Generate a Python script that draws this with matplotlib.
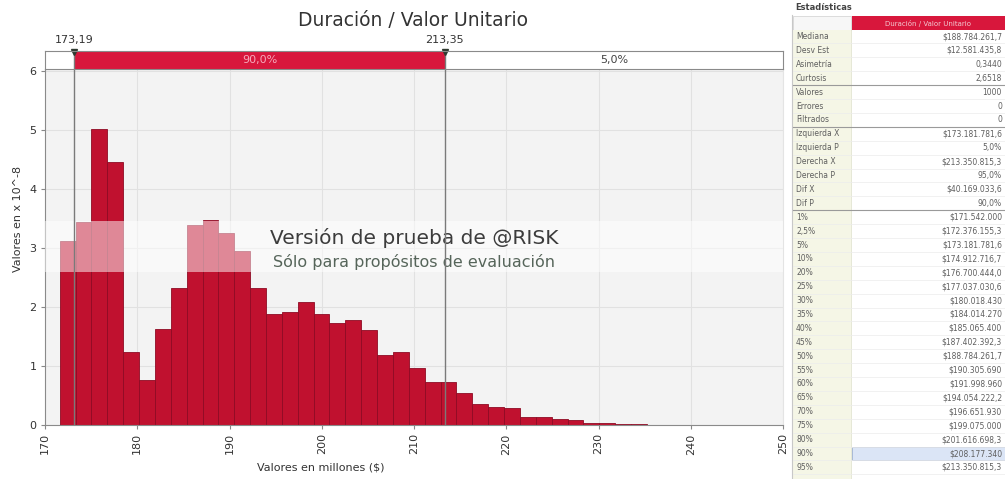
import numpy as np
import matplotlib
matplotlib.use("Agg")
import matplotlib.pyplot as plt
from matplotlib.patches import Rectangle

# histogram of the simulated unit cost (millions of $), density x 10^-8
bin_start = 171.6
bin_width = 1.72
heights = [3.11, 3.43, 5.01, 4.46, 1.24, 0.76, 1.62, 2.32, 3.39, 3.47,
           3.26, 2.94, 2.32, 1.88, 1.92, 2.09, 1.88, 1.73, 1.78, 1.61,
           1.19, 1.24, 0.97, 0.72, 0.72, 0.55, 0.36, 0.30, 0.28, 0.14,
           0.14, 0.11, 0.085, 0.04, 0.03, 0.015, 0.01, 0.008, 0.005, 0.005]

left_x = 173.19
right_x = 213.35
pct_left = 5.0
pct_mid = 90.0
pct_right = 5.0

x_ticks = [170, 180, 190, 200, 210, 220, 230, 240, 250]
y_ticks = [0, 1, 2, 3, 4, 5, 6]

# statistics table on the right
stat_labels = ["Mediana", "Desv Est", "Asimetría", "Curtosis", "Valores", "Errores",
               "Filtrados", "Izquierda X", "Izquierda P", "Derecha X", "Derecha P",
               "Dif X", "Dif P",
               "1%", "2,5%", "5%", "10%", "20%", "25%", "30%", "35%", "40%", "45%",
               "50%", "55%", "60%", "65%", "70%", "75%", "80%", "90%", "95%"]
stat_values = ["$188.784.261,7", "$12.581.435,8", "0,3440", "2,6518", "1000", "0",
               "0", "$173.181.781,6", "5,0%", "$213.350.815,3", "95,0%",
               "$40.169.033,6", "90,0%",
               "$171.542.000", "$172.376.155,3", "$173.181.781,6", "$174.912.716,7",
               "$176.700.444,0", "$177.037.030,6", "$180.018.430", "$184.014.270",
               "$185.065.400", "$187.402.392,3", "$188.784.261,7", "$190.305.690",
               "$191.998.960", "$194.054.222,2", "$196.651.930", "$199.075.000",
               "$201.616.698,3", "$208.177.340", "$213.350.815,3"]

W, H = 1005, 479
fig = plt.figure(figsize=(W / 100, H / 100), dpi=100)

def px_axes(x0, y0, x1, y1):
    return fig.add_axes([x0 / W, 1 - y1 / H, (x1 - x0) / W, (y1 - y0) / H])

ax = px_axes(45, 69, 783, 425)
band = px_axes(45, 51, 783, 69)

edges = bin_start + bin_width * np.arange(len(heights))
ax.set_facecolor("#f3f3f3")
ax.bar(edges, heights, width=bin_width, align="edge", color="#c0112f",
       edgecolor="#8e0b24", linewidth=0.6, zorder=2)

# evaluation watermark
ax.axhspan(2.6, 3.45, color="white", alpha=0.5, lw=0, zorder=3)
ax.text(210, 3.17, "Versión de prueba de @RISK", ha="center", va="center",
        fontsize=14.5, color="#3c3c3c", zorder=4)
ax.text(210, 2.76, "Sólo para propósitos de evaluación", ha="center", va="center",
        fontsize=11.5, color="#56655a", zorder=4)

for v in (left_x, right_x):
    ax.axvline(v, color="#7a7a7a", lw=1, zorder=5)

ax.set_xlim(170, 250)
ax.set_ylim(0, 6.03)
ax.set_xticks(x_ticks)
ax.set_yticks(y_ticks)
ax.set_xticklabels([str(t) for t in x_ticks], rotation=90, fontsize=8, color="#333333")
ax.set_yticklabels([str(t) for t in y_ticks], fontsize=8, color="#333333")
ax.tick_params(direction="out", length=3, color="#888888", pad=3)
ax.grid(True, color="#e1e1e1", lw=0.8, zorder=0)
ax.set_axisbelow(True)
ax.spines["top"].set_visible(False)
ax.spines["right"].set_color("#e4e4e4")
ax.spines["left"].set_color("#8a8a8a")
ax.spines["bottom"].set_color("#8a8a8a")

ax.set_xlabel("Valores en millones ($)", fontsize=8, color="#333333")
ax.xaxis.label.set_va("center")
ax.xaxis.set_label_coords(0.373, -0.118)
ax.set_ylabel("Valores en x 10^-8", fontsize=8, color="#333333")
ax.yaxis.set_label_coords(-0.03, 0.58)

# percentile band on top
band.set_xlim(170, 250)
band.set_ylim(0, 1)
band.axvspan(left_x, right_x, color="#d8173c", lw=0)
band.axvline(left_x, color="#7a7a7a", lw=1)
band.axvline(right_x, color="#7a7a7a", lw=1)
band.set_xticks([])
band.set_yticks([])
for s in band.spines.values():
    s.set_color("#8a8a8a")
    s.set_linewidth(0.8)
band.text((left_x + right_x) / 2, 0.5, f"{pct_mid:.1f}%".replace(".", ","),
          ha="center", va="center", fontsize=8, color="#f6aabb")
band.text((right_x + 250) / 2, 0.5, f"{pct_right:.1f}%".replace(".", ","),
          ha="center", va="center", fontsize=8, color="#444444")
for v in (left_x, right_x):
    band.plot(v, 0.93, marker="v", ms=5, color="#2f3a30", clip_on=False)
    band.text(v, 1.35, f"{v:.2f}".replace(".", ","), ha="center", va="bottom",
              fontsize=8, color="#333333")

fig.text(413 / W, 1 - 20 / H, "Duración / Valor Unitario", ha="center", va="center",
         fontsize=13.5, color="#333333")

# statistics table
tb = px_axes(786, 0, 1005, 479)
tb.set_xlim(786, 1005)
tb.set_ylim(479, 0)
tb.axis("off")

tb.text(795, 7, "Estadísticas", fontsize=6, fontweight="bold", color="#444444",
        va="center", ha="left")
tb.add_patch(Rectangle((793, 16), 58, 14, fc="#f7f7f7", ec="#d0d0d0", lw=0.5))
tb.add_patch(Rectangle((852, 16), 160, 14, fc="#d8173c", ec="none"))
tb.text(928, 23, "Duración / Valor Unitario", fontsize=5, color="#f3c9d2",
        va="center", ha="center")
tb.add_patch(Rectangle((793, 30), 58, 449, fc="#f5f6e6", ec="none"))
tb.plot([792, 792], [15, 479], color="#c8c8c8", lw=0.8)
tb.plot([851, 851], [30, 479], color="#e2e4d0", lw=0.6)

row0 = 36.5
row_h = 13.9
sep_after = {3: "#9a9a9a", 6: "#9a9a9a", 12: "#9a9a9a"}
for i, (lab, val) in enumerate(zip(stat_labels, stat_values)):
    yc = row0 + i * row_h
    if lab == "90%":
        tb.add_patch(Rectangle((852, yc - row_h / 2 + 0.5), 160, row_h - 1,
                               fc="#dbe5f6", ec="#9db0cf", lw=0.6))
    tb.text(796, yc, lab, fontsize=5.5, color="#5f5f5f", va="center", ha="left")
    tb.text(1002, yc, val, fontsize=5.5, color="#5f5f5f", va="center", ha="right")
    yl = yc + row_h / 2
    c = sep_after.get(i, "#ececec")
    tb.plot([793, 1005], [yl, yl], color=c, lw=0.8 if i in sep_after else 0.5)

fig.savefig("out.png", dpi=100)
